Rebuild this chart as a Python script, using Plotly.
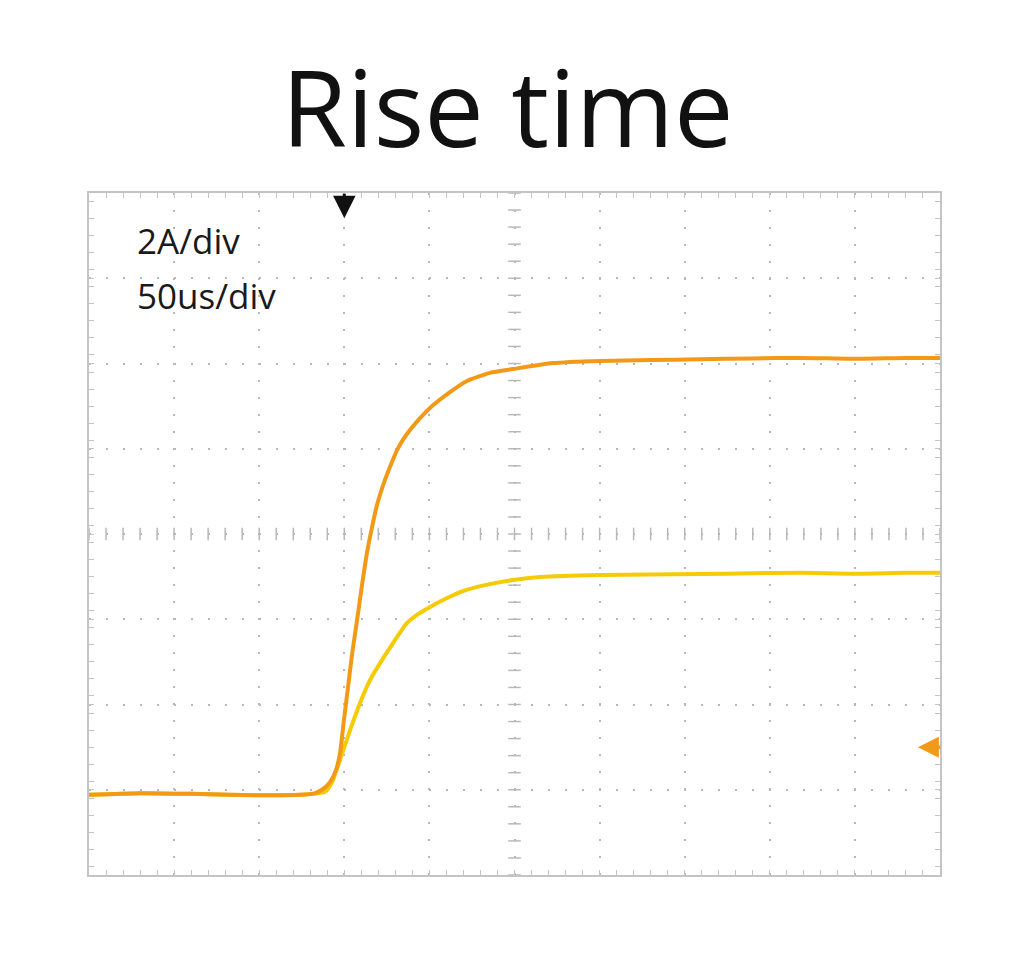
import numpy as np
import plotly.graph_objects as go

# Time in microseconds (50 us/div, trigger at 0), current in A (2 A/div)
t_ch1 = [-150, -120, -84.8, -50, -26, -17.2, -13.1, -8.4, -4.9, -2.5, -0.2, 2.2, 4.5, 7.5,
         10.4, 13.3, 16.3, 19.2, 23.9, 28.0, 31.0, 35.1, 38.6, 44.5, 52.1, 62.1, 72.1,
         85.6, 99.1, 122.6, 150.2, 180, 209, 240, 267.8, 300, 330, 350]
i_ch1 = [-1.12, -1.08, -1.10, -1.13, -1.12, -1.08, -1.00, -0.82, -0.54, -0.14, 0.64, 1.41,
         2.16, 2.98, 3.80, 4.55, 5.16, 5.68, 6.27, 6.69, 6.97, 7.25, 7.44, 7.72, 8.02, 8.33,
         8.59, 8.78, 8.87, 9.01, 9.06, 9.08, 9.10, 9.12, 9.13, 9.11, 9.13, 9.13]

t_ch2 = [-150, -120, -84.8, -50, -26, -11.3, -7.2, -2.5, 3.4, 9.2, 15.1, 21.0, 28.6, 36.8,
         43.3, 50.4, 59.2, 69.7, 82.7, 99.1, 115.0, 150.2, 180, 209, 240, 267.8, 300, 330, 350]
i_ch2 = [-1.12, -1.08, -1.10, -1.13, -1.12, -1.05, -0.82, -0.30, 0.40, 1.03, 1.57, 1.97,
         2.44, 2.91, 3.12, 3.29, 3.475, 3.66, 3.80, 3.92, 3.99, 4.04, 4.05, 4.06, 4.08, 4.09,
         4.07, 4.09, 4.09]

x_range = [-150, 350]
y_range = [-3, 13]
x_div = 50
y_div = 2
x_center = 100
y_center = 5

title_text = "Rise time"
scale_labels = ["2A/div", "50us/div"]

ORANGE = "#F29A17"
YELLOW = "#F5CB06"
GRID = "#B8B8B8"
FRAME = "#C4C4C4"

fig = go.Figure()

# centre graticule ticks
xt = np.arange(x_range[0], x_range[1] + 0.01, x_div / 5)
yt = np.arange(y_range[0], y_range[1] + 0.001, y_div / 5)
fig.add_trace(go.Scatter(x=xt, y=[y_center] * len(xt), mode="markers",
                         marker=dict(symbol="line-ns", size=9, line=dict(width=1.5, color=GRID)),
                         hoverinfo="skip", showlegend=False))
fig.add_trace(go.Scatter(x=[x_center] * len(yt), y=yt, mode="markers",
                         marker=dict(symbol="line-ew", size=9, line=dict(width=1.5, color=GRID)),
                         hoverinfo="skip", showlegend=False))

fig.add_trace(go.Scatter(x=t_ch2, y=i_ch2, mode="lines",
                         line=dict(color=YELLOW, width=4, shape="spline", smoothing=0.6),
                         showlegend=False))
fig.add_trace(go.Scatter(x=t_ch1, y=i_ch1, mode="lines",
                         line=dict(color=ORANGE, width=4, shape="spline", smoothing=0.6),
                         showlegend=False))

axis_common = dict(showgrid=True, gridcolor=GRID, griddash="2px,15px", gridwidth=1.5,
                   zeroline=False, showticklabels=False, showline=True, linecolor=FRAME,
                   linewidth=2, mirror="allticks", ticks="inside", ticklen=5,
                   tickcolor=FRAME, tickwidth=1)

fig.update_xaxes(range=x_range, dtick=x_div, tick0=x_range[0],
                 minor=dict(dtick=x_div / 5, ticks="inside", ticklen=5, tickcolor=FRAME,
                            showgrid=False),
                 **axis_common)
fig.update_yaxes(range=y_range, dtick=y_div, tick0=y_range[0],
                 minor=dict(dtick=y_div / 5, ticks="inside", ticklen=5, tickcolor=FRAME,
                            showgrid=False),
                 **axis_common)

# scale labels
fig.add_annotation(x=0.054, y=0.93, xref="paper", yref="paper", xanchor="left", yanchor="middle",
                   text=scale_labels[0], showarrow=False,
                   font=dict(family="Open Sans", size=35, color="#1a1a1a"))
fig.add_annotation(x=0.054, y=0.849, xref="paper", yref="paper", xanchor="left", yanchor="middle",
                   text=scale_labels[1], showarrow=False,
                   font=dict(family="Open Sans", size=35, color="#1a1a1a"))

# trigger marker
fig.add_annotation(x=0, y=12.41, xref="x", yref="y", text="", showarrow=True,
                   ax=0, ay=-26, arrowhead=2, arrowsize=1.5, arrowwidth=3, arrowcolor="#111111")
# ground reference marker
fig.add_annotation(x=337, y=0, xref="x", yref="y", text="", showarrow=True,
                   ax=24, ay=0, arrowhead=2, arrowsize=1.2, arrowwidth=3.5, arrowcolor=ORANGE)

fig.update_layout(
    width=1029, height=976,
    margin=dict(l=81, r=97, t=185, b=109),
    paper_bgcolor="white", plot_bgcolor="white",
    title=dict(text=title_text, x=0.4854, xanchor="center", y=0.8576, yanchor="bottom",
               font=dict(family="Open Sans", size=106, color="#111111")),
    showlegend=False,
)

fig.write_html("out.html")
